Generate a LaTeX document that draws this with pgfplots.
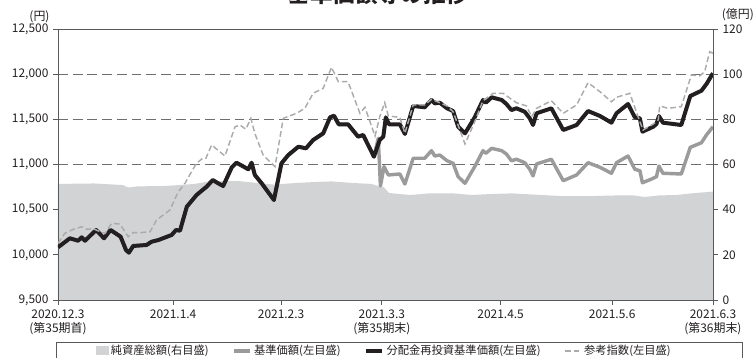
\documentclass[border=0pt]{standalone}
\usepackage{pgfplots}
\pgfplotsset{compat=1.18}
\usepackage{fontspec}
\setmainfont{Noto Sans CJK JP}
\definecolor{areagray}{HTML}{D1D3D4}
\definecolor{navgray}{HTML}{9B9B9B}
\definecolor{refgray}{HTML}{ABABAB}
\definecolor{darkline}{HTML}{231F20}
\definecolor{gridgray}{HTML}{6D6E70}
\definecolor{framegray}{HTML}{58595B}

\pgfplotstableread{
d v
0 51.4
10 51.6
18 50.9
19.5 49.8
22 50.3
30 50.5
38 51.4
42 52.5
50 52.7
58 51.4
60 51.1
66 51.8
72 52.3
76 52.5
82 51.8
87 51.4
89.4 50.3
90.5 50.0
92 47.4
95 46.9
98 46.5
103 47.2
110 47.2
115 46.5
120 46.9
126 47.2
132 46.7
140 46.0
148 46.0
155 46.3
160 46.3
163 45.6
167 46.3
172 46.5
176 47.2
182 48.0
}\netassets

\pgfplotstableread{
d v
0 10083
3.3 10183
5.6 10156
6.6 10194
7.5 10156
10.6 10275
12.8 10183
14.6 10275
17.4 10201
18.9 10053
19.7 10024
20.9 10098
24.6 10109
26 10145
27.9 10164
31.6 10220
32.8 10275
33.9 10267
35.8 10533
38.5 10662
40.4 10725
41.3 10754
43 10828
44.5 10792
45.9 10762
48.3 10969
49.6 11020
52.9 10947
53.8 11020
54.7 10884
56.6 10792
60 10607
62.1 11013
64 11105
66.8 11197
68.9 11179
70.9 11271
73.7 11345
75.6 11522
76.7 11540
78 11445
80.6 11445
83.4 11308
84.8 11327
87.8 11086
89.4 11271
90.4 11308
91.1 11522
92 11445
95 11445
96.4 11338
98.7 11648
101.9 11633
103.8 11714
104.7 11677
106.1 11684
108.1 11622
109.8 11592
111.2 11418
113.1 11345
115.8 11522
118.1 11714
118.9 11684
120.5 11744
123.3 11714
124.6 11670
126 11603
127.4 11622
129.7 11584
131.1 11511
132 11437
133 11567
137.1 11622
140.4 11382
144.1 11437
147.3 11592
150.6 11537
153.8 11463
155.2 11567
158.4 11670
160.3 11522
161.7 11511
162.4 11363
165.4 11418
166.3 11448
167 11537
168.1 11463
173.2 11437
175.7 11758
178.8 11817
180.2 11891
182 12010
}\reinvest

\pgfplotstableread{
d v
0 10083
3.3 10183
5.6 10156
6.6 10194
7.5 10156
10.6 10275
12.8 10183
14.6 10275
17.4 10201
18.9 10053
19.7 10024
20.9 10098
24.6 10109
26 10145
27.9 10164
31.6 10220
32.8 10275
33.9 10267
35.8 10533
38.5 10662
40.4 10725
41.3 10754
43 10828
44.5 10792
45.9 10762
48.3 10969
49.6 11020
52.9 10947
53.8 11020
54.7 10884
56.6 10792
60 10607
62.1 11013
64 11105
66.8 11197
68.9 11179
70.9 11271
73.7 11345
75.6 11522
76.7 11540
78 11445
80.6 11445
83.4 11308
84.8 11327
87.8 11086
89.0 11290
89.6 10762
90.6 10976
91.8 10884
95 10895
96.4 10784
98.7 11069
101.9 11069
103.8 11153
104.7 11094
106.1 11105
108.1 11042
109.8 11013
111.2 10865
113.1 10792
115.8 10976
118.1 11153
118.9 11124
120.5 11179
123.3 11153
124.6 11116
126 11042
127.4 11058
129.7 11020
131.1 10947
132 10873
133 11006
137.1 11058
140.4 10821
144.1 10884
147.3 11020
150.6 10969
153.8 10903
155.2 11020
158.4 11094
160.3 10947
161.7 10931
162.4 10798
165.4 10847
166.3 10865
167 10983
168.1 10903
173.2 10895
175.7 11190
178.8 11241
180.2 11327
182 11418
}\nav

\pgfplotstableread{
d v
0 10128
1.9 10238
4.3 10283
6.6 10311
8 10283
9.8 10289
11.7 10256
13.1 10238
14.9 10349
17.2 10341
19.5 10201
20.9 10245
22.8 10245
25.6 10256
27.4 10386
31.1 10496
33.4 10696
35.3 10792
37.1 10920
38.5 11013
40.2 11069
41.1 11069
42.7 11216
46.4 11094
49.2 11418
50.6 11437
52.2 11390
53.6 11511
54.7 11345
57 11105
60.3 10976
62.6 11511
66.3 11567
68.6 11622
70.9 11788
73.7 11844
76 12076
77.9 11917
80.6 11917
83.9 11567
85.3 11633
88.1 11315
89.4 11529
90.8 11684
91.8 11537
95 11522
96.4 11345
98.7 11659
101.9 11659
103.8 11722
106.1 11684
108.1 11648
109.8 11584
113.1 11227
115.8 11474
118.1 11706
120.9 11788
123.7 11788
126 11722
127.4 11684
130.2 11648
131.6 11529
133 11622
137.1 11706
140.4 11567
144.1 11659
147.3 11906
150.6 11806
153.8 11695
155.2 11744
158.9 11788
161.7 11474
162.6 11382
165.4 11448
166.8 11493
167.2 11648
169.5 11622
173.2 11640
176 11991
178.3 11980
179.7 12027
181.1 12249
182 12231
}\refidx

\begin{document}
\begin{tikzpicture}
% right axis: net assets (area) and grid
\begin{axis}[
  at={(0,0)}, anchor=south west,
  width=17.35cm, height=7.179cm, scale only axis,
  xmin=0, xmax=182, ymin=0, ymax=120,
  axis x line=none, axis y line*=right,
  ytick={0,20,...,120},
  ymajorgrids,
  grid style={gridgray, line width=0.7pt, dash pattern=on 0.26cm off 0.13cm},
  tick align=outside, major tick length=0.13cm,
  y axis line style={framegray, line width=0.6pt},
  ytick style={framegray, line width=0.6pt},
  yticklabel style={font=\fontsize{9}{10}\selectfont, color=darkline},
  /pgf/number format/assume math mode=true,
]
\addplot[fill=areagray, draw=none] table[x=d, y=v] {\netassets} \closedcycle;
\end{axis}
% left axis: prices
\begin{axis}[
  at={(0,0)}, anchor=south west,
  width=17.35cm, height=7.179cm, scale only axis,
  xmin=0, xmax=182, ymin=9500, ymax=12500,
  axis line style={framegray, line width=0.6pt},
  ytick={9500,10000,...,12500}, ytick pos=left,
  xtick={0,32,62,90,123,154,182}, xtick pos=bottom,
  xticklabels={{2020.12.3\\(第35期首)}, 2021.1.4, 2021.2.3, {2021.3.3\\(第35期末)}, 2021.4.5, 2021.5.6, {2021.6.3\\(第36期末)}},
  xticklabel style={align=center, font=\fontsize{9}{10.5}\selectfont, color=darkline},
  yticklabel style={font=\fontsize{9}{10}\selectfont, color=darkline},
  scaled y ticks=false,
  /pgf/number format/1000 sep={,},
  /pgf/number format/assume math mode=true,
  tick align=outside, major tick length=0.13cm,
  tick style={framegray, line width=0.6pt},
  legend columns=4,
  legend cell align=left,
  legend style={at={(0.0576,-0.188)}, anchor=west, draw=none, fill=none, inner sep=0pt,
    font=\fontsize{8.5}{10}\selectfont, text=darkline,
    /tikz/every even column/.append style={column sep=0.55cm}},
  legend image code/.code={\draw[#1] (0cm,0cm) -- (0.42cm,0cm);},
]
\addlegendimage{legend image code/.code={\fill[areagray] (0cm,-0.09cm) rectangle (0.31cm,0.12cm);}}
\addlegendentry{純資産総額(右目盛)}
\addplot[navgray, line width=2.6pt, line join=round] table[x=d, y=v] {\nav};
\addlegendentry{基準価額(左目盛)}
\addplot[darkline, line width=3pt, line join=round] table[x=d, y=v] {\reinvest};
\addlegendentry{分配金再投資基準価額(左目盛)}
\addplot[refgray, line width=1.1pt, dash pattern=on 0.15cm off 0.08cm] table[x=d, y=v] {\refidx};
\addlegendentry{参考指数(左目盛)}
\end{axis}
\node[font=\fontsize{9}{10}\selectfont, color=darkline] at (-0.49,7.5) {(円)};
\node[font=\fontsize{9}{10}\selectfont, color=darkline] at (18.01,7.55) {(億円)};
\node[font=\fontsize{17}{19}\selectfont\bfseries, color=darkline] at (8.477,8.106) {基準価額等の推移};
\draw[framegray, line width=0.6pt] (-0.03,-1.113) rectangle (18.12,-1.75);
\pgfresetboundingbox
\path[use as bounding box] (-1.536,-1.536) rectangle (18.464,7.947);
\end{tikzpicture}
\end{document}
